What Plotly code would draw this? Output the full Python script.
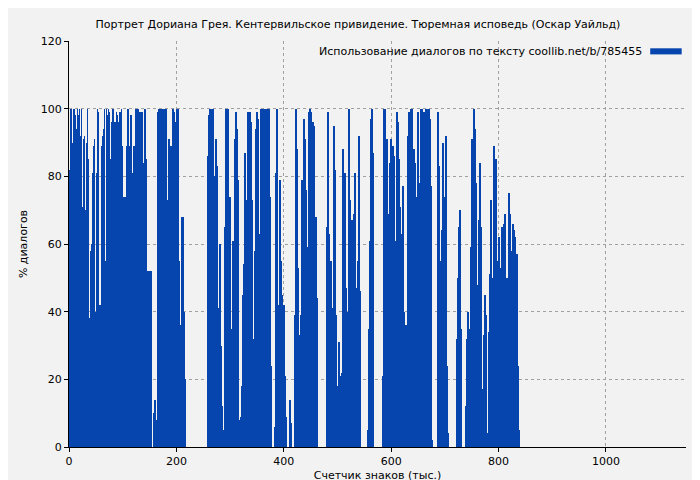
import plotly.graph_objects as go

step = 1.862  # thousand chars per bar
pct = [82,100,100,90,100,100,98,94,100,98,100,92,100,71,91,92,70,90,100,85,
       38,58,60,81,89,91,40,81,100,99,3,42,89,92,94,100,55,100,98,100,
       99,85,96,99,100,25,96,99,98,96,90,99,100,89,28,74,74,89,54,100,
       52,89,98,72,81,89,47,100,100,100,99,99,92,99,55,84,100,85,52,52,
       52,52,52,0,0,10,14,8,5,99,100,100,99,100,88,100,100,100,5,73,
       91,81,89,29,100,99,96,15,100,100,55,36,34,68,68,40,20,0,0,0,
       0,0,0,0,0,0,0,0,0,0,0,0,0,0,0,0,0,0,0,
       86,98,100,100,100,100,80,52,91,83,41,0,60,30,12,0,5,65,100,100,
       100,59,74,35,32,61,52,91,99,94,79,8,4,9,18,45,54,87,73,72,
       99,99,99,96,73,12,32,58,94,99,97,63,61,100,100,100,100,100,96,100,
       99,100,74,24,0,0,0,6,81,100,13,42,79,55,45,22,42,21,9,0,
       0,0,14,7,0,0,0,39,100,88,53,33,30,39,79,37,97,91,76,38,
       59,99,100,99,91,96,95,31,68,44,0,0,0,0,0,0,0,0,0,65,
       99,63,36,55,27,41,95,82,39,18,0,31,16,21,22,88,67,81,47,9,
       40,100,73,33,67,62,69,81,47,47,
       55,92,46,0,0,0,0,0,0,0,5,35,61,97,100,87,0,0,0,0,
       0,0,0,0,0,21,100,100,53,91,69,62,84,91,64,89,86,61,61,99,
       96,85,71,51,63,77,40,32,36,28,92,99,98,100,100,83,88,84,73,74,
       99,41,78,100,100,99,99,69,100,100,92,100,97,77,2,0,0,0,0,0,
       99,83,13,55,64,90,58,74,92,24,4,0,0,0,0,0,0,0,0,32,
       50,65,70,35,0,0,0,0,12,32,40,35,23,59,91,88,100,94,78,44,
       48,67,84,65,0,17,33,45,39,0,4,34,51,73,50,31,89,80,85,55,
       48,62,53,44,65,35,66,69,31,50,49,75,69,36,58,66,64,62,45,57,
       24,5]
chars = [round((i + 0.5) * step, 2) for i in range(len(pct))]

fig = go.Figure(go.Bar(x=chars, y=pct, width=step, marker_color="#0645ad",
                       marker_line_width=0, showlegend=False))

grid = dict(showgrid=True, gridcolor="#a0a0a0", griddash="dot", gridwidth=1,
            showline=True, linecolor="#000", linewidth=1, ticks="outside",
            ticklen=4, tickcolor="#000", zeroline=False, mirror=False,
            automargin=False, tickfont=dict(size=11))
fig.update_layout(
    width=700, height=480, margin=dict(l=61, r=22, t=33, b=41),
    paper_bgcolor="#f2f2f2", plot_bgcolor="#f2f2f2",
    font=dict(family="DejaVu Sans", size=11, color="#000"),
    title=dict(text="Портрет Дориана Грея. Кентервильское привидение. Тюремная исповедь (Оскар Уайльд)",
               x=0.5, xanchor="center", y=0.966, yanchor="middle", font=dict(size=11),
               automargin=False),
    xaxis=dict(range=[0, 1149], tickvals=[0, 200, 400, 600, 800, 1000],
               title=dict(text="Счетчик знаков (тыс.)", standoff=4, font=dict(size=11)), **grid),
    yaxis=dict(range=[0, 120], tickvals=[0, 20, 40, 60, 80, 100, 120],
               title=dict(text="% диалогов", standoff=10, font=dict(size=11)), **grid),
    bargap=0,
)
fig.add_annotation(xref="paper", yref="paper", x=0.932, y=0.975, xanchor="right",
                   yanchor="middle", showarrow=False,
                   text="Использование диалогов по тексту coollib.net/b/785455")
fig.add_shape(type="rect", xref="paper", yref="paper", x0=0.942, x1=0.993,
              y0=0.967, y1=0.982, fillcolor="#0645ad", line_width=0)
fig.write_html("out.html")
